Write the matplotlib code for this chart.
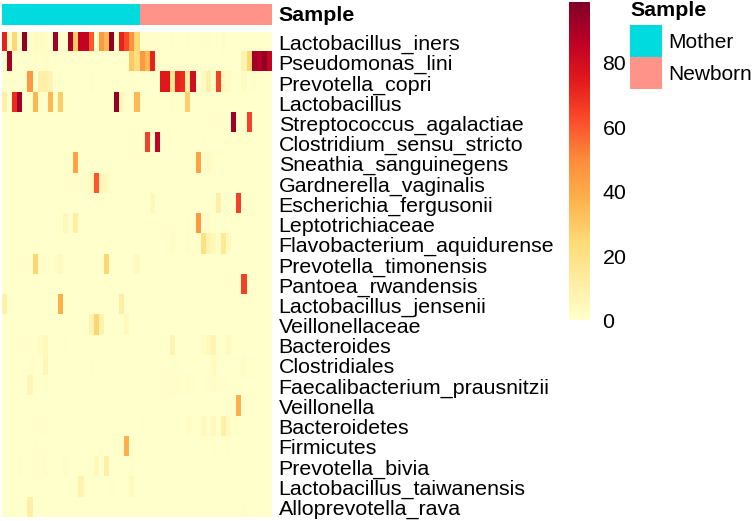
import numpy as np
import matplotlib
matplotlib.use("Agg")
import matplotlib.pyplot as plt
from matplotlib.colors import ListedColormap
from matplotlib.patches import Rectangle

plt.rcParams['font.family'] = ['Liberation Sans', 'DejaVu Sans']

W, H = 753, 521
n_mother = 27
n_newborn = 26
vmax = 99

taxa = ["Lactobacillus_iners", "Pseudomonas_lini", "Prevotella_copri", "Lactobacillus",
        "Streptococcus_agalactiae", "Clostridium_sensu_stricto", "Sneathia_sanguinegens",
        "Gardnerella_vaginalis", "Escherichia_fergusonii", "Leptotrichiaceae",
        "Flavobacterium_aquidurense", "Prevotella_timonensis", "Pantoea_rwandensis",
        "Lactobacillus_jensenii", "Veillonellaceae", "Bacteroides", "Clostridiales",
        "Faecalibacterium_prausnitzii", "Veillonella", "Bacteroidetes", "Firmicutes",
        "Prevotella_bivia", "Lactobacillus_taiwanensis", "Alloprevotella_rava"]

# sample index -> abundance; unlisted samples read as 0
lactobacillus_iners = {0:72,1:0.5,2:25,3:0.5,4:95,5:1,6:3,7:2.5,8:2,9:0.5,10:92,13:90,14:30,15:85,16:85,17:60,19:45,20:35,21:95,22:1,23:72,24:62,25:48,26:25,27:1,28:1,29:0.5,30:0.5,33:0.5,36:1,39:1,40:1,43:1.5}
pseudomonas_lini = {1:92,6:1.5,7:1,8:2,25:30,26:22,27:45,28:35,29:72,30:2,47:8,48:25,49:92,50:88,51:95,52:85}
prevotella_copri = {5:45,7:10,8:10,9:7,17:1.5,25:1,31:75,32:75,33:18,34:72,35:70,36:12,37:80,39:3,40:10,41:1.5,42:65,43:4,44:2,47:3}
lactobacillus = {0:10,2:70,3:92,6:35,9:35,11:28,22:95,23:6,26:35,33:1.5,36:28}
streptococcus_agalactiae = {45:92,48:65}
clostridium_sensu_stricto = {28:65,30:85,39:0.5}
sneathia_sanguinegens = {12:1,14:42,38:42,40:3}
gardnerella_vaginalis = {17:4,18:60,19:6,20:4}
escherichia_fergusonii = {29:5,42:10,46:65}
leptotrichiaceae = {12:5,14:12,36:1,38:46,40:2}
flavobacterium_aquidurense = {33:2,36:1.5,39:20,40:8,41:5,42:2,43:15,44:4}
prevotella_timonensis = {6:26,7:1.5,8:1,10:1.5,11:4,20:26,26:4}
pantoea_rwandensis = {47:65}
lactobacillus_jensenii = {0:10,11:38,23:11}
veillonellaceae = {17:7,18:26,19:8,24:4}
bacteroides = {3:0.5,4:0.5,7:3,8:5,12:1,33:8,39:2,40:5,41:7,44:4}
clostridiales = {5:1,8:6,17:1,33:1,34:1,41:4,47:2}
faecalibacterium_prausnitzii = {5:6,32:0.5,33:1,34:1.5,35:1,36:1.5,37:1,40:1,41:1.5,42:1,43:1}
veillonella = {46:38}
bacteroidetes = {7:0.5,8:0.5,27:1,36:2,39:4,40:1,41:4,43:10,44:4}
firmicutes = {6:1,24:38,41:0.5,44:0.5}
prevotella_bivia = {3:1.5,8:2,12:1.5,18:5,20:10,25:0.5}
lactobacillus_taiwanensis = {15:8,21:1,25:4}
alloprevotella_rava = {5:11,47:1}

rows = [lactobacillus_iners, pseudomonas_lini, prevotella_copri, lactobacillus,
        streptococcus_agalactiae, clostridium_sensu_stricto, sneathia_sanguinegens,
        gardnerella_vaginalis, escherichia_fergusonii, leptotrichiaceae,
        flavobacterium_aquidurense, prevotella_timonensis, pantoea_rwandensis,
        lactobacillus_jensenii, veillonellaceae, bacteroides, clostridiales,
        faecalibacterium_prausnitzii, veillonella, bacteroidetes, firmicutes,
        prevotella_bivia, lactobacillus_taiwanensis, alloprevotella_rava]

n_cols = n_mother + n_newborn
matrix = np.zeros((len(rows), n_cols))
for i, r in enumerate(rows):
    for c, v in r.items():
        matrix[i, c] = v

cmap = plt.get_cmap("YlOrRd")
MOTHER = "#00DBDF"
NEWBORN = "#FF9289"
FS = 15.4
FS_LEGEND = 15.0


def px_axes(fig, x0, y0, x1, y1):
    return fig.add_axes([x0 / W, 1 - y1 / H, (x1 - x0) / W, (y1 - y0) / H])


fig = plt.figure(figsize=(W / 100, H / 100), dpi=100)

# heatmap
ax = px_axes(fig, 1.7, 32.3, 271.7, 517.5)
ax.imshow(matrix, cmap=cmap, vmin=0, vmax=vmax, aspect="auto", interpolation="nearest")
ax.set_xticks([])
ax.yaxis.tick_right()
ax.set_yticks(np.arange(len(taxa)), taxa, fontsize=FS)
ax.tick_params(axis="y", length=0, pad=5)
for s in ax.spines.values():
    s.set_visible(False)

# annotation bar
ab = px_axes(fig, 1.7, 4, 271.7, 25)
groups = np.array([[0] * n_mother + [1] * n_newborn])
ab.imshow(groups, cmap=ListedColormap([MOTHER, NEWBORN]), aspect="auto", interpolation="nearest")
ab.set_xticks([])
ab.set_yticks([])
for s in ab.spines.values():
    s.set_visible(False)
fig.text(278 / W, 1 - 15.5 / H, "Sample", fontsize=FS, fontweight="bold", va="center", ha="left")

# colorbar
cax = px_axes(fig, 569, 1.5, 590, 320.5)
grad = np.linspace(vmax, 0, 256)[:, None]
cax.imshow(grad, cmap=cmap, vmin=0, vmax=vmax, aspect="auto", extent=[0, 1, 0, vmax])
cax.set_xticks([])
cax.yaxis.tick_right()
cax.set_yticks([0, 20, 40, 60, 80], ["0", "20", "40", "60", "80"], fontsize=FS)
cax.tick_params(axis="y", length=0, pad=9)
for s in cax.spines.values():
    s.set_visible(False)

# legend
fig.text(630 / W, 1 - 11 / H, "Sample", fontsize=FS, fontweight="bold", va="center", ha="left")
fig.add_artist(Rectangle((630 / W, 1 - 57.5 / H), 32 / W, 32 / H, transform=fig.transFigure, fc=MOTHER, ec="none"))
fig.add_artist(Rectangle((630 / W, 1 - 89 / H), 32 / W, 31.5 / H, transform=fig.transFigure, fc=NEWBORN, ec="none"))
fig.text(668 / W, 1 - 42.5 / H, "Mother", fontsize=FS_LEGEND, va="center", ha="left")
fig.text(668 / W, 1 - 74 / H, "Newborn", fontsize=FS_LEGEND, va="center", ha="left")

fig.savefig("out.png", dpi=100)
